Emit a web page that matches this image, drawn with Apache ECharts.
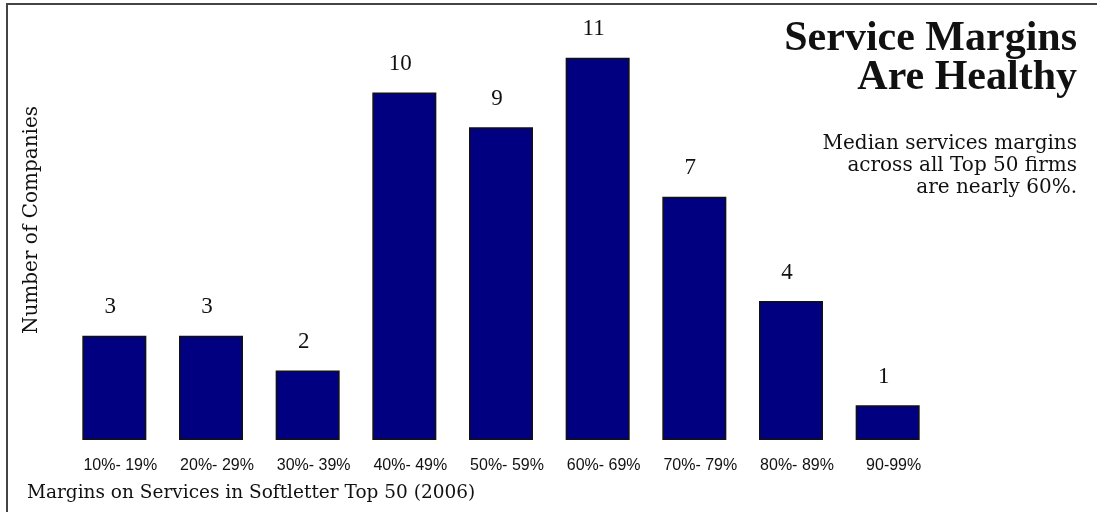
<!DOCTYPE html>
<html>
<head>
<meta charset="utf-8">
<script src="https://cdn.jsdelivr.net/npm/echarts@6/dist/echarts.min.js"></script>
<style>
  html, body { margin: 0; padding: 0; background: #fff; }
  #chart { width: 1097px; height: 512px; }
</style>
</head>
<body>
<div id="chart"></div>
<script>
const categories = ['10%- 19%', '20%- 29%', '30%- 39%', '40%- 49%', '50%- 59%', '60%- 69%', '70%- 79%', '80%- 89%', '90-99%']
const companies = [3, 3, 2, 10, 9, 11, 7, 4, 1]
const titleLines = ['Service Margins', 'Are Healthy']
const noteLines = ['Median services margins', 'across all Top 50 firms', 'are nearly 60%.']
const yAxisName = 'Number of Companies'
const xAxisName = 'Margins on Services in Softletter Top 50 (2006)'

const serif = '"Liberation Serif", serif'
const wideSerif = '"DejaVu Serif", serif'
const sans = '"Liberation Sans", Arial, sans-serif'

const chart = echarts.init(document.getElementById('chart'))

chart.setOption({
  backgroundColor: '#fff',
  animation: false,
  grid: { left: 66, right: 161, top: 23, bottom: 72 },
  xAxis: {
    type: 'category',
    data: categories,
    axisLine: { show: false },
    axisTick: { show: false },
    axisLabel: {
      margin: 18,
      fontSize: 16,
      color: '#111',
      fontFamily: sans,
      padding: [0, 0, 0, 12]
    }
  },
  yAxis: {
    type: 'value',
    min: 0,
    max: 12,
    interval: 1,
    axisLine: { show: false },
    axisTick: { show: false },
    axisLabel: { show: false },
    splitLine: { show: false }
  },
  series: [{
    type: 'bar',
    data: companies,
    barWidth: 64,
    itemStyle: { color: '#000080', borderColor: '#111', borderWidth: 1.5 },
    label: {
      show: true,
      position: 'top',
      distance: 17,
      offset: [-4, 0],
      fontSize: 23,
      color: '#111',
      fontFamily: serif
    }
  }],
  graphic: [
    {
      type: 'polyline',
      shape: { points: [[7, 512], [7, 4], [1097, 4]] },
      style: { stroke: '#444', lineWidth: 2, fill: null }
    },
    {
      type: 'text',
      x: 1077,
      y: 20,
      style: {
        text: titleLines.join('\n'),
        font: 'bold 42px ' + serif,
        lineHeight: 39,
        align: 'right',
        fill: '#111'
      }
    },
    {
      type: 'text',
      x: 1077,
      y: 133,
      style: {
        text: noteLines.join('\n'),
        font: '20px ' + wideSerif,
        lineHeight: 22,
        align: 'right',
        fill: '#111'
      }
    },
    {
      type: 'text',
      x: 32,
      y: 220,
      rotation: Math.PI / 2,
      style: {
        text: yAxisName,
        font: '20px ' + wideSerif,
        align: 'center',
        verticalAlign: 'middle',
        fill: '#111'
      }
    },
    {
      type: 'text',
      x: 27,
      y: 484,
      style: {
        text: xAxisName,
        font: '18.5px ' + wideSerif,
        fill: '#111'
      }
    }
  ]
})
</script>
</body>
</html>
